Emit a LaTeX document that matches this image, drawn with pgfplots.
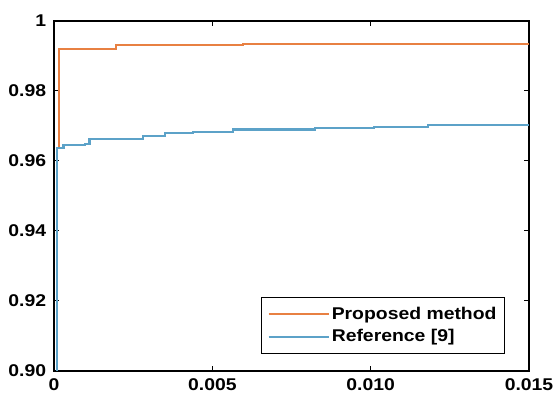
\documentclass[border=0pt]{standalone}
\usepackage{pgfplots}
\pgfplotsset{compat=1.18}
\usepackage{fontspec}
\setmainfont[FakeStretch=1.14]{Liberation Sans}
\definecolor{orng}{RGB}{232,128,66}
\definecolor{blu}{RGB}{92,162,200}
\begin{document}
\fontsize{17}{20}\selectfont\bfseries
\begin{tikzpicture}
\begin{axis}[
  name=ax,
  scale only axis,
  width=475pt, height=350pt,
  xmin=0, xmax=0.015, ymin=0.90, ymax=1,
  xtick={0,0.005,0.01,0.015},
  xticklabels={0,0.005,0.010,0.015},
  ytick={0.90,0.92,0.94,0.96,0.98,1},
  yticklabels={0.90,0.92,0.94,0.96,0.98,1},
  scaled x ticks=false,
  tick align=inside,
  major tick length=5pt,
  tick style={black, line width=1pt},
  axis line style={black, line width=1.3pt},
  tick label style={font=\fontsize{17}{20}\selectfont\bfseries},
  /pgf/number format/assume math mode=true,
  xticklabel style={yshift=-2pt},
  yticklabel style={xshift=-2pt},
  legend style={at={(0.9495,0.0486)}, anchor=south east, draw=black, line width=1pt,
    font=\fontsize{17}{20}\selectfont\bfseries, inner xsep=6pt, inner ysep=7pt, row sep=4pt,
    cells={anchor=west}},
  legend image code/.code={\draw[#1] (0pt,0pt) -- (60pt,0pt);},
]
\addplot[const plot, orng, line width=2.2pt] coordinates {
 (0.00015,0.9635) (0.00015,0.9919) (0.00196,0.9931) (0.00597,0.9934) (0.015,0.9934)
};
\addlegendentry{Proposed method}
\addplot[const plot, blu, line width=2.2pt] coordinates {
 (0.0001,0.900) (0.0001,0.9638) (0.0003,0.9645) (0.00098,0.9649) (0.00112,0.9662)
 (0.0028,0.9671) (0.0035,0.9679) (0.0044,0.9683) (0.00565,0.9690) (0.00824,0.9694)
 (0.0101,0.9698) (0.0118,0.9702) (0.015,0.9702)
};
\addlegendentry{Reference [9]}
\end{axis}
\pgfresetboundingbox
\path (ax.south west) ++(-54pt,-24pt) rectangle ++(553pt,395pt);
\end{tikzpicture}
\end{document}
